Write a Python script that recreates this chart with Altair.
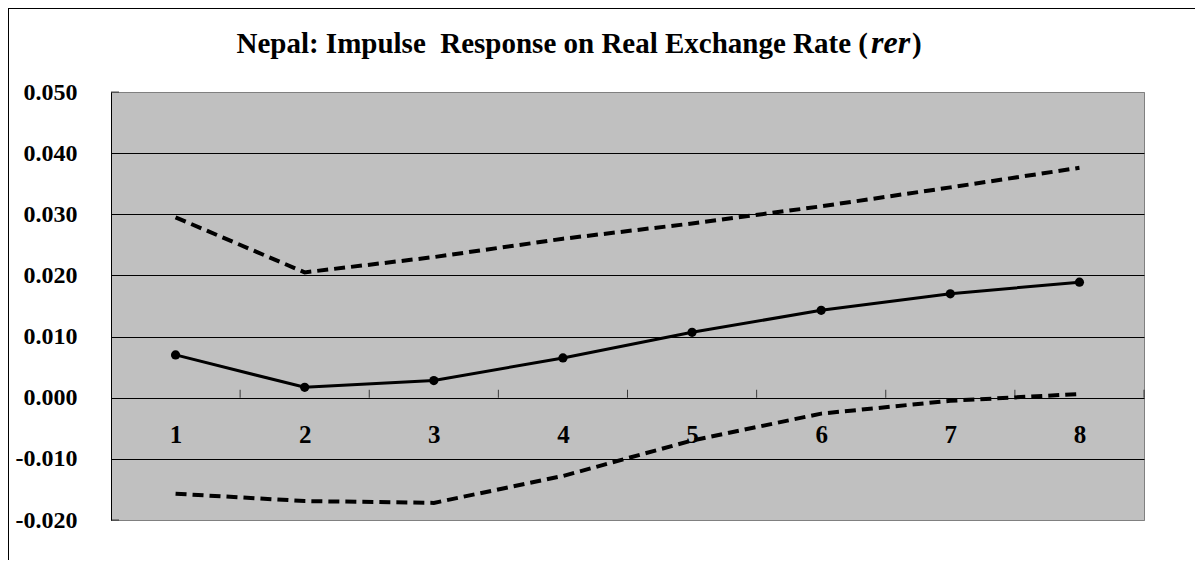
import altair as alt
import pandas as pd

# ---- data ----
steps = [1, 2, 3, 4, 5, 6, 7, 8]
response = [0.0070, 0.0017, 0.0028, 0.0065, 0.0107, 0.0143, 0.0170, 0.0189]
upper = [0.0295, 0.0205, 0.0230, 0.0260, 0.0285, 0.0313, 0.0344, 0.0376]
lower = [-0.0157, -0.0169, -0.0172, -0.0128, -0.0070, -0.0026, -0.0005, 0.0006]
y_ticks = [-0.02, -0.01, 0.0, 0.01, 0.02, 0.03, 0.04, 0.05]
x_tick_marks = [1.5, 2.5, 3.5, 4.5, 5.5, 6.5, 7.5, 8.5]
title_main = "Nepal: Impulse\u00a0 Response on Real Exchange Rate ("
title_ital = "rer"
title_end = ")"

W, H = 1033, 428
Y0, Y1 = -0.02, 0.05
zero_px = H * (Y1 - 0) / (Y1 - Y0)
FONT = "Liberation Serif"

rows = []
for s, r, u, l in zip(steps, response, upper, lower):
    rows.append({"step": s, "value": r, "series": "response"})
    rows.append({"step": s, "value": u, "series": "upper"})
    rows.append({"step": s, "value": l, "series": "lower"})
df = pd.DataFrame(rows)
resp_df = df[df.series == "response"]
band_df = df[df.series != "response"]

xscale = alt.Scale(domain=[0.5, 8.5], nice=False)
yscale = alt.Scale(domain=[Y0, Y1], nice=False)

x_axis = alt.Axis(
    values=steps, format="d", orient="bottom", offset=-(H - zero_px),
    labelPadding=25, ticks=False, domain=False, grid=False, title=None,
    labelFont=FONT, labelFontSize=25, labelFontWeight="bold", labelColor="black",
)
y_axis = alt.Axis(
    values=y_ticks, title=None, ticks=False,
    labelExpr="replace(format(datum.value, '.3f'), '\u2212', '-')",
    labelFont=FONT, labelFontSize=24, labelFontWeight="bold", labelColor="black",
    labelPadding=34, domainColor="black", domainWidth=1,
    gridColor={"condition": {"test": "datum.value > 0.0495 || datum.value < -0.0195",
                             "value": "#808080"}, "value": "black"},
    gridWidth=1, gridOpacity=1,
)

base_x = alt.X("step:Q", scale=xscale, axis=x_axis)
base_y = alt.Y("value:Q", scale=yscale, axis=y_axis)

dashed = alt.Chart(band_df).mark_line(
    color="black", strokeWidth=4, strokeDash=[11, 6]
).encode(x=base_x, y=base_y, detail="series:N")

solid = alt.Chart(resp_df).mark_line(color="black", strokeWidth=3).encode(
    x="step:Q", y="value:Q")
dots = alt.Chart(resp_df).mark_point(
    filled=True, color="black", size=85, opacity=1, shape="circle"
).encode(x="step:Q", y="value:Q")

ticks_x = alt.Chart(pd.DataFrame({"t": x_tick_marks})).mark_tick(
    orient="vertical", color="black", size=8, thickness=1, yOffset=-4
).encode(x="t:Q", y=alt.datum(0))

ticks_y = alt.Chart(pd.DataFrame({"v": [Y1, Y0]})).mark_tick(
    orient="horizontal", color="black", size=8, thickness=1, xOffset=4
).encode(x=alt.datum(0.5), y="v:Q")

one = pd.DataFrame({"a": [0]})
PAD_L, PAD_T, PAD_R, PAD_B = 103, 84, 51, 40
border_left = alt.Chart(one).mark_rule(color="black", strokeWidth=1).encode(
    x=alt.value(-PAD_L + 0.5), y=alt.value(-PAD_T), y2=alt.value(H + PAD_B))
border_top = alt.Chart(one).mark_rule(color="black", strokeWidth=1).encode(
    x=alt.value(-PAD_L), x2=alt.value(W + PAD_R), y=alt.value(-PAD_T + 0.5))

TX, TY, TS = 757, -39, 29
t1 = alt.Chart(one).mark_text(
    font=FONT, fontSize=TS, fontWeight="bold", align="right", baseline="alphabetic",
    color="black"
).encode(x=alt.value(TX), y=alt.value(TY), text=alt.value(title_main))
t2 = alt.Chart(one).mark_text(
    font=FONT, fontSize=32, fontStyle="italic", fontWeight="bold", align="left",
    baseline="alphabetic", color="black"
).encode(x=alt.value(TX + 3), y=alt.value(TY), text=alt.value(title_ital))
t3 = alt.Chart(one).mark_text(
    font=FONT, fontSize=TS, fontWeight="bold", align="left", baseline="alphabetic",
    color="black"
).encode(x=alt.value(TX + 44), y=alt.value(TY), text=alt.value(title_end))

chart = alt.layer(
    dashed, solid, dots, ticks_x, ticks_y, border_left, border_top, t1, t2, t3
).properties(
    width=W, height=H,
    autosize=alt.AutoSizeParams(type="none"),
    padding={"left": PAD_L, "top": PAD_T, "right": PAD_R, "bottom": PAD_B},
).configure(
    background="white",
    view=alt.ViewConfig(fill="#c0c0c0", stroke="#808080", strokeWidth=1),
)

chart.save("out.html", embed_options={"renderer": "svg", "actions": False})
